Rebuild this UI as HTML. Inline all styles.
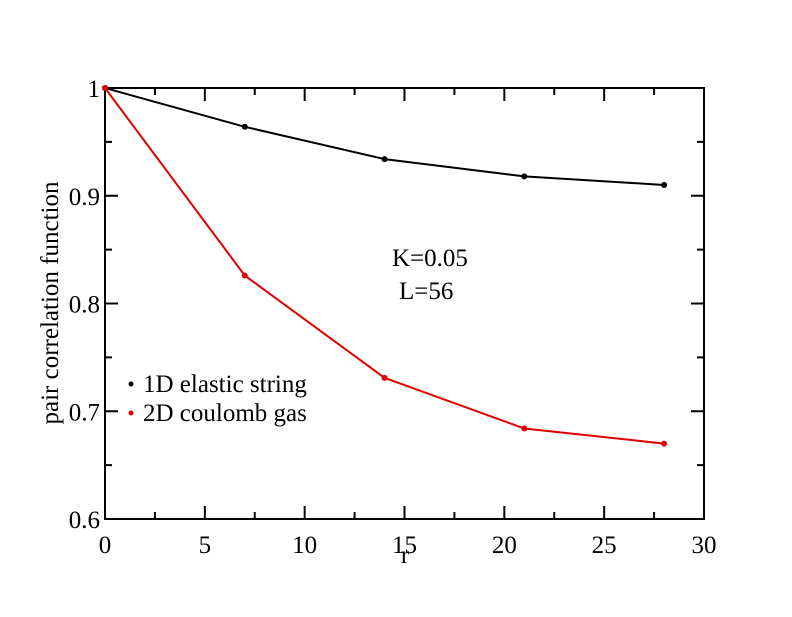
<!DOCTYPE html>
<html><head><meta charset="utf-8"><style>
body{margin:0;background:#fff}
svg text{font-family:"Liberation Serif",serif;font-size:25px;fill:#000}
</style></head><body>
<svg width="792" height="612">
<g id="axes"></g>
<g id="series"></g>
<text x="392" y="266">K=0.05</text>
<text x="399" y="299">L=56</text>
<g>
<g><circle cx="131" cy="384" r="2.5" fill="#000"/><text x="143" y="392">1D elastic string</text></g>
<g><circle cx="131" cy="413" r="2.5" fill="#e00000"/><text x="143" y="421">2D coulomb gas</text></g>
</g>
<text transform="translate(58,303) rotate(-90)" text-anchor="middle">pair correlation function</text>
<text x="405" y="563" text-anchor="middle">r</text>
</svg>
<script>
const xValues=[0,7,14,21,28];
const series1D=[1,0.964,0.934,0.918,0.910];
const series2D=[1,0.826,0.731,0.684,0.670];
const xTicks=[0,5,10,15,20,25,30];
const yTicks=[0.6,0.7,0.8,0.9,1];
const yTickLabels=["0.6","0.7","0.8","0.9","1"];
const NS="http://www.w3.org/2000/svg";
const L=105,R=704,T=88,B=519;
const sx=v=>L+(v-0)/30*(R-L);
const sy=v=>B-(v-0.6)/0.4*(B-T);
const ax=document.getElementById('axes'),se=document.getElementById('series');
function mk(tag,at,p){const e=document.createElementNS(NS,tag);for(const k in at)e.setAttribute(k,at[k]);p.appendChild(e);return e;}
const fr=mk('rect',{x:L,y:T,width:R-L,height:B-T,fill:'none',stroke:'#000','stroke-width':2},ax);


for(let v=0;v<=30.01;v+=2.5){const x=sx(v),len=(Math.round(v)%5===0&&Math.abs(v-Math.round(v))<1e-6)?13:7;
mk('line',{x1:x,y1:B,x2:x,y2:B-len,stroke:'#000','stroke-width':2},ax);
mk('line',{x1:x,y1:T,x2:x,y2:T+len,stroke:'#000','stroke-width':2},ax);}
for(let i=0;i<=8;i++){const v=0.6+i*0.05,y=sy(v),len=i%2===0?13:7;
mk('line',{x1:L,y1:y,x2:L+len,y2:y,stroke:'#000','stroke-width':2},ax);
mk('line',{x1:R,y1:y,x2:R-len,y2:y,stroke:'#000','stroke-width':2},ax);}
xTicks.forEach(v=>{const t=mk('text',{x:sx(v),y:B+34,'text-anchor':'middle'},ax);t.textContent=String(v);

});
yTicks.forEach((v,i)=>{const t=mk('text',{x:L-5,y:sy(v)+9,'text-anchor':'end'},ax);t.textContent=yTickLabels[i];

});
function draw(vals,color,name){
const pl=mk('polyline',{points:xValues.map((x,i)=>sx(x)+','+sy(vals[i])).join(' '),fill:'none',stroke:color,'stroke-width':2},se);


vals.forEach((v,i)=>{const c=mk('circle',{cx:sx(xValues[i]),cy:sy(v),r:3,fill:color},se);

});}
draw(series1D,'#000','series-1d');
draw(series2D,'#e00000','series-2d');
</script>
</body></html>
